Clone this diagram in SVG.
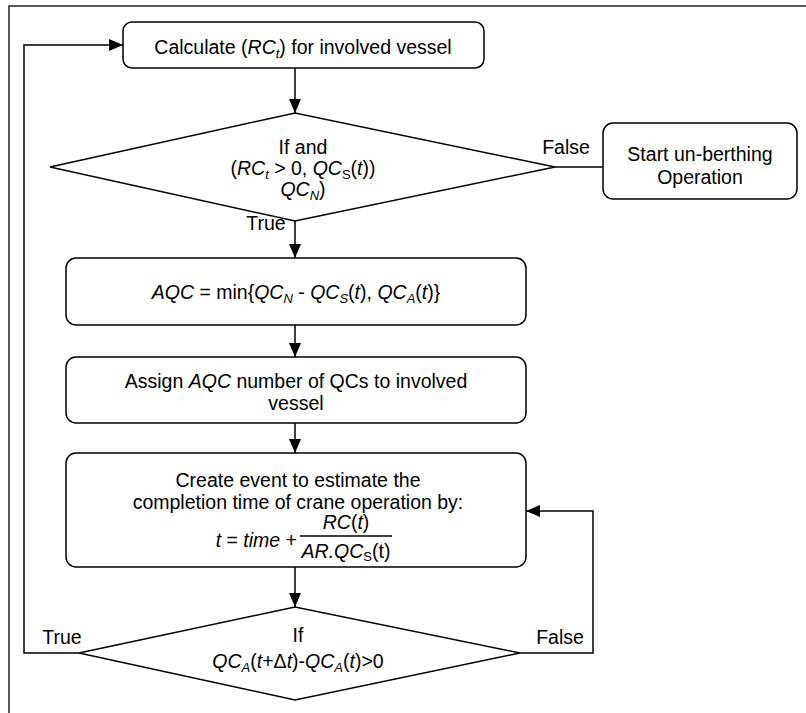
<svg xmlns="http://www.w3.org/2000/svg" width="806" height="713" viewBox="0 0 806 713">
<style>
.n{fill:#fff;stroke:#000;stroke-width:1.5}
.c{fill:none;stroke:#000;stroke-width:1.5}
text{font-family:"Liberation Sans",Arial,sans-serif;font-size:19.5px;fill:#000}
.t{text-anchor:middle}
.i{font-style:italic}
.s{font-size:13px}
</style>
<defs>
<marker id="ah" viewBox="0 0 14 12" refX="14" refY="6" markerWidth="14" markerHeight="12" markerUnits="userSpaceOnUse" orient="auto">
<path d="M0,0 L14,6 L0,12 Z" fill="#000"/>
</marker>
</defs>
<rect width="806" height="713" fill="#fff"/>
<path d="M9,713 V6 H806" fill="none" stroke="#222" stroke-width="1.5"/>
<g id="connectors">
<path class="c" d="M295,68 V113" marker-end="url(#ah)"/>
<path class="c" d="M555,167 H603"/>
<path class="c" d="M295,221 V258" marker-end="url(#ah)"/>
<path class="c" d="M295,325 V357" marker-end="url(#ah)"/>
<path class="c" d="M295,423 V453" marker-end="url(#ah)"/>
<path class="c" d="M295,567 V607" marker-end="url(#ah)"/>
<path class="c" d="M79,653 H24 V45 H123" marker-end="url(#ah)"/>
<path class="c" d="M520,653 H593 V511 H526" marker-end="url(#ah)"/>
<text x="566" y="154" class="t">False</text>
<text x="266" y="230" class="t">True</text>
<text x="62" y="644" class="t">True</text>
<text x="560" y="644" class="t">False</text>
</g>
<g id="calc">
<rect class="n" x="123" y="22" width="361" height="46" rx="9"/>
<text x="303" y="54" class="t">Calculate (<tspan class="i">RC</tspan><tspan class="i s" dy="4">t</tspan><tspan dy="-4">) for involved vessel</tspan></text>
</g>
<g id="cond1">
<polygon class="n" points="50,167 295,113 555,167 295,221"/>
<text x="303" y="154" class="t">If and</text>
<text x="303" y="175" class="t">(<tspan class="i">RC</tspan><tspan class="i s" dy="4">t</tspan><tspan dy="-4"> &gt; 0, </tspan><tspan class="i">QC</tspan><tspan class="s" dy="4">S</tspan><tspan dy="-4">(</tspan><tspan class="i">t</tspan>))</text>
<text x="303" y="196" class="t"><tspan class="i">QC</tspan><tspan class="i s" dy="4">N</tspan><tspan dy="-4">)</tspan></text>
</g>
<g id="unberth">
<rect class="n" x="603" y="123" width="194" height="76" rx="10"/>
<text x="700" y="161" class="t">Start un-berthing</text>
<text x="700" y="184" class="t">Operation</text>
</g>
<g id="aqc">
<rect class="n" x="66" y="258" width="460" height="67" rx="10"/>
<text x="296" y="299" class="t"><tspan class="i">AQC</tspan> = min{<tspan class="i">QC</tspan><tspan class="i s" dy="4">N</tspan><tspan dy="-4"> - </tspan><tspan class="i">QC</tspan><tspan class="i s" dy="4">S</tspan><tspan dy="-4">(</tspan><tspan class="i">t</tspan>), <tspan class="i">QC</tspan><tspan class="i s" dy="4">A</tspan><tspan dy="-4">(</tspan><tspan class="i">t</tspan>)}</text>
</g>
<g id="assign">
<rect class="n" x="66" y="357" width="460" height="66" rx="10"/>
<text x="296" y="388" class="t">Assign <tspan class="i">AQC</tspan> number of QCs to involved</text>
<text x="296" y="410" class="t">vessel</text>
</g>
<g id="create">
<rect class="n" x="66" y="453" width="460" height="114" rx="10"/>
<text x="298" y="487" class="t">Create event to estimate the</text>
<text x="298" y="509" class="t">completion time of crane operation by:</text>
<text x="297" y="547" text-anchor="end"><tspan class="i">t</tspan> = <tspan class="i">time</tspan> + </text>
<line x1="300" y1="536" x2="392" y2="536" stroke="#000" stroke-width="1.3"/>
<text x="346" y="529" class="t"><tspan class="i">RC</tspan>(<tspan class="i">t</tspan>)</text>
<text x="346" y="558" class="t"><tspan class="i">AR.QC</tspan><tspan class="s" dy="3">S</tspan><tspan dy="-3">(t)</tspan></text>
</g>
<g id="cond2">
<polygon class="n" points="79,653 295,607 520,653 295,700"/>
<text x="298" y="642" class="t">If</text>
<text x="298" y="668" class="t"><tspan class="i">QC</tspan><tspan class="i s" dy="4">A</tspan><tspan dy="-4">(</tspan><tspan class="i">t</tspan>+Δ<tspan class="i">t</tspan>)-<tspan class="i">QC</tspan><tspan class="i s" dy="4">A</tspan><tspan dy="-4">(</tspan><tspan class="i">t</tspan>)&gt;0</text>
</g>
</svg>
